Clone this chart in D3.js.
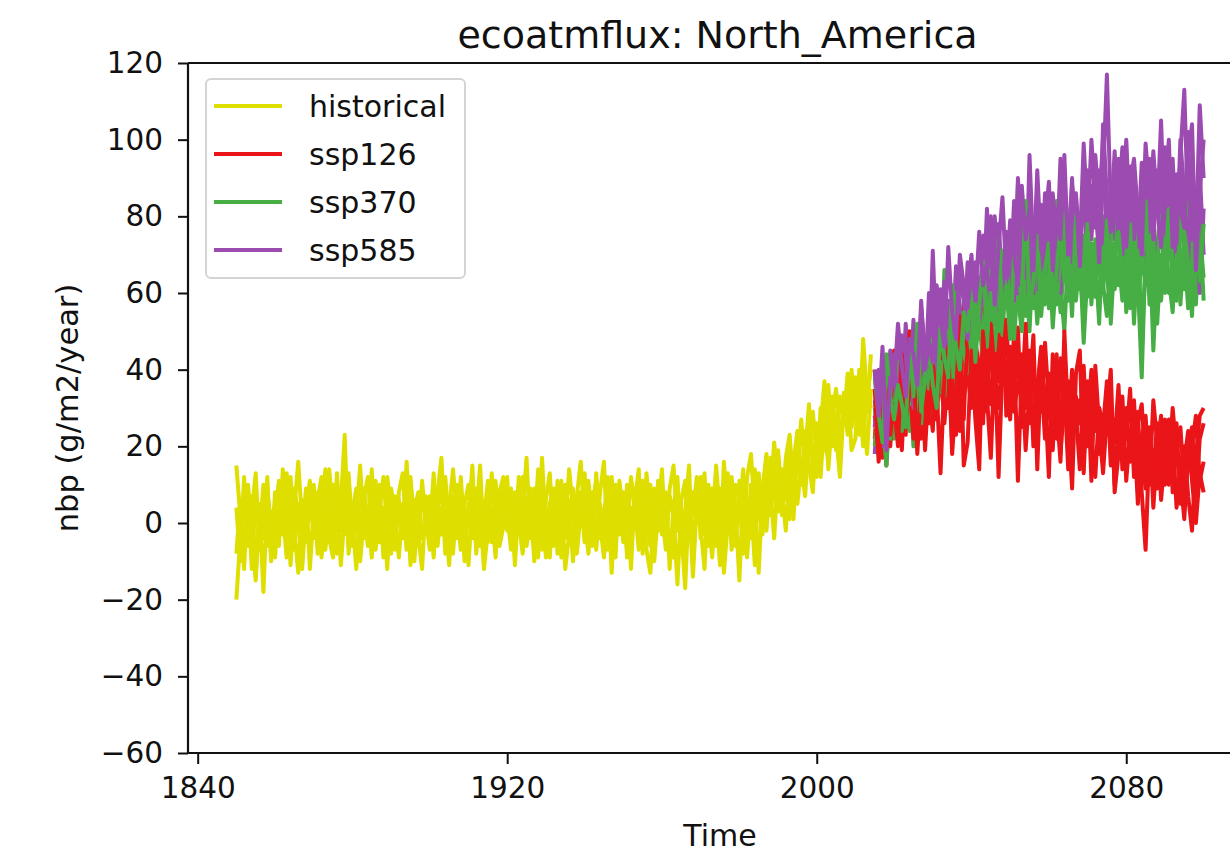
<!DOCTYPE html>
<html>
<head>
<meta charset="utf-8">
<script src="https://cdn.jsdelivr.net/npm/d3@7"></script>
<style>
  html, body { margin: 0; padding: 0; background: #fff; }
  svg { display: block; }
  text { font-family: "DejaVu Sans", sans-serif; fill: #111; }
</style>
</head>
<body>
<svg id="chart" width="1230" height="854"></svg>
<script>
// Net biome production, North America, annual means (g/m2/year)
const chartTitle = "ecoatmflux: North_America";
const xLabel = "Time";
const yLabel = "nbp (g/m2/year)";
const xTicks = [1840, 1920, 2000, 2080];
const yTicks = [-60, -40, -20, 0, 20, 40, 60, 80, 100, 120];

const histStart = 1850;   // historical runs 1850-2014
const scenStart = 2015;   // scenario runs 2015-2100

const historicalA = [
  -20, -4, 9, -2, 3, 13, -7, 1, 6, -9,
  2, 11, -3, 7, -11, 4, 16, 0, -5, 8,
  -3, 6, 12, -7, 4, 10, -2, 5, 23, -8,
  3, 9, -5, 7, 12, -4, 1, 10, -9, 6,
  0, -7, 8, 13, -3, 5, -10, 4, 9, -2,
  7, -5, 3, 11, -8, 4, 14, 1, -6, 5,
  10, -4, 2, 15, -7, 6, 3, -9, 8, 12,
  -2, 5, -11, 7, 3, 17, -4, 9, 1, -7,
  6, 13, -3, 4, -9, 10, 2, -5, 7, 16,
  1, -8, 5, 11, -4, 3, 9, -13, 6, 2,
  8, -3, 12, 4, -7, 5, 1, 10, -10, 3,
  14, -5, 7, 2, -16, 6, 11, -4, 8, 0,
  5, 13, -6, 9, 3, -11, 16, 4, -5, 10,
  7, -8, 12, 18, 3, 9, -3, 14, 6, 21,
  11, 2, 17, 23, 9, 15, 27, 13, 20, 29,
  17, 25, 37, 22, 30, 19, 33, 27, 39, 25,
  31, 23, 38, 29, 44
];
const historicalB = [
  15, 2, -8, 5, -12, 8, -3, 10, -6, 3,
  -9, 6, -2, 13, 1, -7, 5, -4, 9, -12,
  4, -1, 8, -5, 14, 2, -8, 6, -3, 11,
  -6, 2, 15, -4, 4, -9, 7, 2, -7, 12,
  3, -5, 6, -2, 10, -11, 3, 8, -4, 1,
  -7, 9, 2, -3, 12, -1, -8, 6, 3, -10,
  5, -2, 9, -6, 1, 11, -5, 4, -2, 7,
  12, -6, 3, 0, -8, 5, 9, -2, 14, -4,
  2, -9, 7, 1, 11, -4, 6, -10, 3, -1,
  9, 4, -6, 13, 0, -9, 5, 12, -3, 7,
  -5, 10, -1, 6, 14, -8, 3, -6, 9, 4,
  -3, 8, -12, 5, 10, -2, -17, 7, 2, 12,
  -4, 6, 1, -9, 11, 5, -1, 13, -7, 4,
  -15, 8, 4, -4, 14, 1, 10, -2, 17, 8,
  3, 14, 6, 19, 1, 21, 10, 24, 15, 8,
  26, 18, 31, 14, 28, 35, 21, 29, 24, 40,
  27, 34, 20, 36, 30
];
const historicalC = [
  4, -10, 12, -6, 7, -14, 3, -18, 8, 0,
  5, -6, 14, -1, -8, 9, 2, -12, 3, 11,
  -4, 8, -9, 2, 6, -5, 13, -2, 18, -6,
  1, -12, 5, 9, -3, 14, -7, 3, 12, -1,
  -8, 7, 2, -4, 16, -2, 6, -6, 11, 0,
  4, -9, 8, 17, -3, 6, -1, 10, -7, 2,
  -11, 6, -1, 8, 3, -5, 13, 0, -4, 9,
  2, -7, 8, -3, 12, -6, 1, 6, -9, 17,
  -2, 5, 9, -8, 3, -1, 14, 4, -6, 8,
  -5, 11, 0, -4, 8, 16, -7, 2, 10, -3,
  6, -9, 4, -1, 9, -4, 13, 2, -6, 11,
  3, -7, 9, 15, -2, 4, -10, 6, -14, 5,
  12, -3, 7, -1, 15, 2, -8, 9, 1, -6,
  11, 3, -6, 10, 5, -13, 9, 18, 2, 11,
  19, 7, 12, 1, 16, 24, 11, 18, 31, 14,
  22, 12, 28, 36, 20, 26, 16, 34, 23, 30,
  38, 26, 48, 33, 40
];
const historicalD = [
  -8, 6, -12, 10, -1, -15, 5, -4, 12, -10,
  8, -3, 3, -9, 12, -2, -13, 6, -1, 2,
  10, -8, 1, 14, -4, -9, 7, -11, 2, 13,
  -2, 5, -10, 2, -6, 8, 11, -5, 4, -12,
  9, 2, -9, 5, -7, 12, 0, -3, -12, 7,
  -2, 13, -6, 4, 1, -11, 7, -4, 12, -3,
  1, 15, -8, 3, -12, -2, 8, 11, -6, -1,
  6, 9, -4, 12, -5, -1, 5, -10, 4, 8,
  -9, 2, -6, 11, 5, -12, -3, 9, -8, 3,
  13, -2, 8, -7, 5, -5, 12, -1, -9, 11,
  2, 5, -12, 9, -3, 11, -7, -13, 4, -2,
  9, 1, -5, -9, 12, -8, 3, 15, -11, 8,
  -1, -12, 10, 4, -6, 9, -13, 0, 12, -2,
  2, 14, -9, 6, -11, 13, 4, -1, 9, -4,
  13, 9, -2, 12, 18, 5, 15, 7, 23, 19,
  12, 30, 20, 17, 33, 23, 12, 31, 36, 19,
  22, 40, 29, 18, 35
];

const ssp126A = [
  22, 38, 17, 30, 44,
  26, 35, 19, 41, 28, 47, 31, 22, 45, 33,
  24, 50, 36, 29, 43, 21, 48, 38, 27, 52,
  35, 44, 23, 56, 40, 31, 49, 37, 60, 28,
  42, 33, 51, 25, 38, 45, 20, 36, 29, 47,
  31, 19, 40, 26, 35, 14, 38, 24, 32, 17,
  34, 22, 12, 30, 25, 37, 15, 27, 20, 33,
  11, 24, 17, 29, 8, -7, 21, 13, 26, 6,
  18, 10, 23, 4, 15, 20, 7, -2, 17, 28,
  30
];
const ssp126B = [
  40, 24, 33, 15, 36,
  45, 29, 38, 23, 50, 34, 27, 42, 19, 37,
  46, 31, 55, 26, 40, 35, 44, 24, 57, 39,
  30, 47, 41, 26, 53, 45, 33, 58, 36, 42,
  27, 50, 38, 44, 30, 41, 23, 35, 46, 28,
  39, 33, 22, 43, 30, 37, 21, 33, 26, 41,
  20, 29, 35, 18, 27, 23, 31, 10, 26, 19,
  30, 16, 25, 5, 22, 28, 12, 19, 9, 24,
  14, 27, 8, 20, 12, 1, 19, 25, 6, 22,
  26
];
const ssp126C = [
  28, 18, 42, 25, 20,
  33, 40, 24, 30, 37, 22, 46, 35, 28, 40,
  32, 27, 44, 49, 30, 38, 23, 41, 33, 45,
  50, 38, 34, 45, 29, 52, 39, 30, 44, 35,
  46, 29, 37, 32, 52, 26, 40, 31, 38, 22,
  36, 28, 44, 18, 32, 25, 40, 29, 14, 35,
  26, 40, 24, 30, 17, 34, 28, 21, 36, 14,
  27, 20, 32, 14, 18, 9, 25, 4, 19, 28,
  10, 19, 14, 26, 5, 16, 24, 11, 0, 13,
  8
];
const ssp126D = [
  35, 16, 27, 39, 23,
  31, 20, 44, 27, 34, 40, 18, 36, 30, 26,
  41, 35, 13, 38, 46, 18, 33, 54, 15, 21,
  45, 27, 14, 50, 33, 17, 44, 12, 41, 53,
  32, 46, 11, 40, 19, 35, 49, 14, 42, 33,
  12, 44, 30, 16, 50, 27, 9, 39, 45, 13,
  37, 11, 41, 25, 13, 28, 40, 8, 18, 30,
  22, 35, 12, 26, 31, 15, 10, 32, 21, 13,
  27, 15, 30, 18, 25, 9, 14, 20, 28, 11,
  16
];

const ssp370A = [
  30, 18, 36, 24, 40,
  22, 33, 45, 28, 38, 20, 42, 31, 48, 27,
  40, 52, 34, 46, 30, 55, 41, 36, 58, 44,
  38, 50, 62, 45, 55, 40, 63, 48, 57, 70,
  52, 61, 88, 55, 66, 50, 72, 58, 64, 76,
  56, 68, 84, 62, 50, 71, 59, 78, 66, 54,
  74, 61, 69, 52, 80, 64, 57, 73, 62, 82,
  55, 70, 60, 76, 48, 67, 79, 58, 72, 64,
  77, 60, 68, 85, 57, 73, 63, 81, 66, 74,
  70
];
const ssp370B = [
  20, 35, 27, 15, 31,
  38, 26, 30, 41, 24, 36, 29, 50, 33, 40,
  31, 44, 38, 66, 42, 48, 35, 52, 45, 39,
  56, 47, 53, 42, 64, 51, 45, 60, 49, 67,
  58, 48, 63, 74, 54, 61, 69, 52, 65, 57,
  87, 60, 72, 55, 68, 63, 76, 58, 70, 47,
  66, 73, 59, 78, 62, 54, 71, 65, 83, 60,
  69, 56, 74, 63, 38, 71, 60, 80, 67, 58,
  72, 64, 55, 78, 68, 61, 84, 70, 57, 76,
  64
];
const ssp370C = [
  26, 23, 39, 32, 22,
  29, 42, 24, 35, 31, 45, 37, 26, 43, 35,
  48, 37, 42, 33, 50, 38, 60, 43, 49, 54,
  44, 58, 48, 52, 46, 66, 55, 50, 71, 57,
  63, 55, 59, 50, 70, 64, 56, 73, 60, 68,
  62, 74, 57, 69, 81, 58, 66, 72, 61, 75,
  59, 70, 64, 56, 72, 68, 77, 61, 69, 58,
  72, 65, 81, 57, 70, 62, 75, 45, 68, 80,
  60, 75, 67, 58, 80, 71, 56, 73, 65, 79,
  58
];
const ssp370D = [
  38, 28, 21, 44, 33,
  27, 36, 31, 25, 47, 33, 52, 29, 38, 46,
  36, 30, 51, 43, 38, 62, 46, 40, 55, 50,
  61, 42, 57, 68, 49, 60, 52, 74, 54, 62,
  48, 70, 66, 58, 84, 56, 63, 75, 54, 66,
  73, 51, 66, 77, 63, 70, 54, 81, 68, 62,
  78, 57, 74, 66, 60, 79, 52, 70, 76, 64,
  62, 78, 52, 71, 66, 84, 57, 74, 52, 70,
  66, 82, 59, 70, 62, 76, 68, 54, 80, 63,
  78
];

const ssp585A = [
  18, 35, 24, 42, 28,
  33, 46, 30, 52, 37, 41, 34, 56, 45, 38,
  71, 44, 50, 39, 58, 47, 62, 52, 45, 68,
  55, 60, 49, 75, 58, 66, 52, 78, 63, 70,
  60, 84, 68, 74, 59, 96, 70, 80, 65, 86,
  72, 78, 68, 95, 74, 63, 88, 79, 70, 92,
  76, 100, 84, 70, 90, 117, 82, 74, 95, 80,
  100, 78, 88, 72, 94, 83, 69, 91, 80, 105,
  75, 92, 84, 70, 96, 113, 80, 88, 74, 109,
  90
];
const ssp585B = [
  32, 22, 38, 26, 45,
  29, 40, 35, 44, 32, 53, 39, 47, 36, 60,
  48, 55, 42, 63, 51, 46, 67, 56, 50, 60,
  70, 53, 64, 57, 82, 61, 72, 55, 68, 62,
  76, 64, 57, 80, 71, 66, 78, 61, 83, 72,
  65, 86, 75, 60, 82, 71, 90, 66, 78, 84,
  70, 88, 77, 92, 68, 85, 78, 97, 72, 86,
  80, 66, 90, 76, 85, 70, 95, 78, 64, 88,
  98, 74, 86, 67, 90, 79, 102, 70, 85, 60,
  82
];
const ssp585C = [
  25, 40, 20, 33, 36,
  44, 28, 49, 36, 42, 30, 50, 43, 38, 52,
  57, 40, 61, 49, 44, 55, 50, 64, 58, 48,
  62, 68, 56, 72, 65, 58, 80, 66, 60, 76,
  68, 58, 90, 73, 64, 77, 60, 86, 74, 65,
  82, 70, 63, 80, 88, 76, 68, 85, 72, 99,
  80, 74, 96, 83, 100, 71, 88, 80, 92, 70,
  86, 93, 74, 84, 68, 89, 77, 97, 82, 72,
  90, 81, 95, 73, 100, 85, 68, 94, 80, 92,
  70
];
const ssp585D = [
  40, 28, 46, 19, 38,
  36, 52, 41, 33, 48, 44, 36, 58, 40, 47,
  42, 62, 53, 46, 72, 55, 48, 70, 62, 56,
  66, 58, 76, 62, 68, 80, 57, 72, 85, 64,
  79, 70, 62, 88, 74, 82, 66, 92, 71, 78,
  89, 66, 82, 74, 96, 70, 80, 86, 67, 88,
  92, 76, 88, 68, 104, 85, 76, 90, 84, 98,
  72, 89, 95, 81, 70, 99, 86, 74, 92, 83,
  86, 100, 72, 91, 82, 77, 96, 104, 66, 86,
  100
];

const scenarioNames = ["historical", "ssp126", "ssp370", "ssp585"];
const scenarioColors = ["#dede00", "#ea1519", "#47ad45", "#9c4cb0"];
const members = {
  historical: [historicalA, historicalB, historicalC, historicalD],
  ssp126: [ssp126A, ssp126B, ssp126C, ssp126D],
  ssp370: [ssp370A, ssp370B, ssp370C, ssp370D],
  ssp585: [ssp585A, ssp585B, ssp585C, ssp585D]
};

// ---- layout ----
const plot = { left: 188, right: 1252, top: 63, bottom: 753 };

const svg = d3.select("#chart");
const x = d3.scaleLinear().domain([1837.5, 2112.5]).range([plot.left, plot.right]);
const y = d3.scaleLinear().domain([-60, 120]).range([plot.bottom, plot.top]);

svg.append("defs").append("clipPath").attr("id", "plotClip")
  .append("rect")
  .attr("x", plot.left).attr("y", plot.top)
  .attr("width", plot.right - plot.left).attr("height", plot.bottom - plot.top);

const line = d3.line().x(d => x(d[0])).y(d => y(d[1]));
const toPoints = (vals, start) => vals.map((v, i) => [start + i, v]);

const lines = svg.append("g").attr("clip-path", "url(#plotClip)")
  .attr("fill", "none").attr("stroke-width", 4)
  .attr("stroke-linejoin", "round").attr("stroke-linecap", "butt");

// historical members first, then scenario members interleaved
members.historical.forEach(vals => {
  lines.append("path").attr("d", line(toPoints(vals, histStart)))
    .attr("stroke", scenarioColors[0]);
});
for (let m = 0; m < 4; m++) {
  ["ssp126", "ssp370", "ssp585"].forEach(name => {
    lines.append("path").attr("d", line(toPoints(members[name][m], scenStart)))
      .attr("stroke", scenarioColors[scenarioNames.indexOf(name)]);
  });
}

// ---- axes ----
const fontTick = 29.5;
const xAxis = d3.axisBottom(x).tickValues(xTicks).tickFormat(d3.format("d"))
  .tickSize(11).tickPadding(13);
const yAxis = d3.axisLeft(y).tickValues(yTicks)
  .tickFormat(d => d < 0 ? "\u2212" + Math.abs(d) : String(d))
  .tickSize(10).tickPadding(15);

const gx = svg.append("g").attr("transform", `translate(0,${plot.bottom})`).call(xAxis);
const gy = svg.append("g").attr("transform", `translate(${plot.left},0)`).call(yAxis);
[gx, gy].forEach(g => {
  g.select(".domain").remove();
  g.selectAll(".tick line").attr("stroke", "#111").attr("stroke-width", 2);
  g.selectAll(".tick text").attr("font-size", fontTick)
    .attr("font-family", "DejaVu Sans").attr("fill", "#111");
});

// spines (left, top, bottom; right falls outside the canvas)
const spines = svg.append("g").attr("stroke", "#111").attr("stroke-width", 2.2);
spines.append("line").attr("x1", plot.left).attr("x2", plot.left)
  .attr("y1", plot.top).attr("y2", plot.bottom);
spines.append("line").attr("x1", plot.left).attr("x2", plot.right)
  .attr("y1", plot.top).attr("y2", plot.top);
spines.append("line").attr("x1", plot.left).attr("x2", plot.right)
  .attr("y1", plot.bottom).attr("y2", plot.bottom);
spines.append("line").attr("x1", plot.right).attr("x2", plot.right)
  .attr("y1", plot.top).attr("y2", plot.bottom);

// ---- labels ----
svg.append("text").attr("x", 717.5).attr("y", 48)
  .attr("text-anchor", "middle").attr("font-size", 38).text(chartTitle);
svg.append("text").attr("x", 720).attr("y", 846)
  .attr("text-anchor", "middle").attr("font-size", 30).text(xLabel);
svg.append("text")
  .attr("transform", `translate(78,${(plot.top + plot.bottom) / 2}) rotate(-90)`)
  .attr("text-anchor", "middle").attr("font-size", 30.5).text(yLabel);

// ---- legend ----
const legend = svg.append("g").attr("transform", "translate(206,79)");
legend.append("rect").attr("width", 259).attr("height", 199)
  .attr("rx", 5).attr("fill", "#fff").attr("fill-opacity", 0.8)
  .attr("stroke", "#d4d4d4").attr("stroke-width", 2);
scenarioNames.forEach((name, i) => {
  const row = legend.append("g").attr("transform", `translate(0,${27 + i * 48})`);
  row.append("line").attr("x1", 8).attr("x2", 76).attr("y1", 0).attr("y2", 0)
    .attr("stroke", scenarioColors[i]).attr("stroke-width", 4);
  row.append("text").attr("x", 103).attr("y", 10.5)
    .attr("font-size", 30).text(name);
});
</script>
</body>
</html>
